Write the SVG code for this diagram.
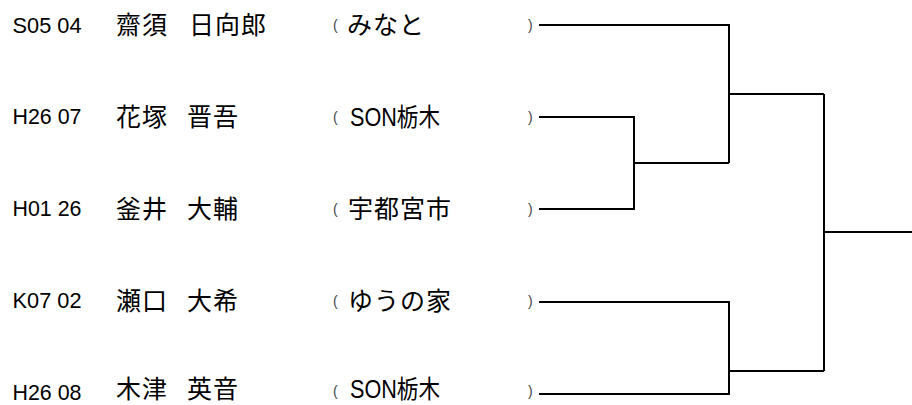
<svg xmlns="http://www.w3.org/2000/svg" width="912" height="405" viewBox="0 0 912 405">
<style>
.code{font-family:"Liberation Sans",Arial,sans-serif;font-size:22px;fill:#000}
.jp{font-family:"Noto Sans CJK JP","Noto Sans CJK SC",sans-serif;font-size:25px;letter-spacing:1px;fill:#000}
.org{font-family:"Liberation Sans","Noto Sans CJK JP",sans-serif;font-size:25px;fill:#000}
.par{font-family:"Liberation Sans",sans-serif;font-size:14px;fill:#444}
.ln{fill:none;stroke:#000;stroke-width:2}
</style>
<rect width="912" height="405" fill="#fff"/>
<g id="p1">
<text class="code" x="12.5" y="32.5" textLength="69" lengthAdjust="spacingAndGlyphs">S05 04</text>
<text class="jp" x="116" y="34">齋須</text>
<text class="jp" x="189" y="34">日向郎</text>
<text class="par" x="333" y="30">(</text>
<text class="jp" x="347" y="34">みなと</text>
<text class="par" x="528" y="30">)</text>
</g>
<g id="p2">
<text class="code" x="12.5" y="124" textLength="69" lengthAdjust="spacingAndGlyphs">H26 07</text>
<text class="jp" x="116" y="125.5">花塚</text>
<text class="jp" x="187" y="125.5">晋吾</text>
<text class="par" x="333" y="121.5">(</text>
<text class="org" x="350" y="125.5" textLength="90" lengthAdjust="spacingAndGlyphs">SON栃木</text>
<text class="par" x="528" y="121.5">)</text>
</g>
<g id="p3">
<text class="code" x="12.5" y="216" textLength="69" lengthAdjust="spacingAndGlyphs">H01 26</text>
<text class="jp" x="116" y="217.5">釜井</text>
<text class="jp" x="187" y="217.5">大輔</text>
<text class="par" x="333" y="213.5">(</text>
<text class="jp" x="348" y="217.5">宇都宮市</text>
<text class="par" x="528" y="213.5">)</text>
</g>
<g id="p4">
<text class="code" x="12.5" y="308" textLength="69" lengthAdjust="spacingAndGlyphs">K07 02</text>
<text class="jp" x="116" y="309.5">瀬口</text>
<text class="jp" x="187" y="309.5">大希</text>
<text class="par" x="333" y="305.5">(</text>
<text class="jp" x="348" y="309.5">ゆうの家</text>
<text class="par" x="528" y="305.5">)</text>
</g>
<g id="p5">
<text class="code" x="12.5" y="399.5" textLength="69" lengthAdjust="spacingAndGlyphs">H26 08</text>
<text class="jp" x="116" y="398">木津</text>
<text class="jp" x="187" y="398">英音</text>
<text class="par" x="333" y="396">(</text>
<text class="org" x="350" y="398" textLength="90" lengthAdjust="spacingAndGlyphs">SON栃木</text>
<text class="par" x="528" y="396">)</text>
</g>
<g id="connectors">
<path class="ln" d="M539,117 H634 V209 H539 M634,163 H729"/>
<path class="ln" d="M539,25 H729 V163 M729,94 H824"/>
<path class="ln" d="M539,302 H729 V394 H539 M729,371 H824"/>
<path class="ln" d="M824,94 V371 M824,232 H912"/>
</g>
</svg>
